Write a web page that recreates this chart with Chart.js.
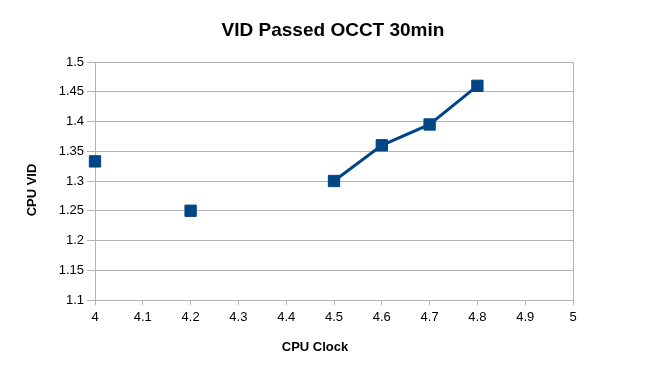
<!DOCTYPE html>
<html>
<head>
<meta charset="utf-8">
<script src="https://cdn.jsdelivr.net/npm/chart.js@4/dist/chart.umd.min.js"></script>
<style>
  html, body { margin: 0; padding: 0; background: #ffffff; }
  #wrap { width: 666px; height: 376px; }
</style>
</head>
<body>
<div id="wrap"><canvas id="c" width="666" height="376"></canvas></div>
<script>
const chartTitle = 'VID Passed OCCT 30min';
const xAxisTitle = 'CPU Clock';
const yAxisTitle = 'CPU VID';
const clocks = [4.0, 4.1, 4.2, 4.3, 4.4, 4.5, 4.6, 4.7, 4.8];
const vids   = [1.333, null, 1.25, null, null, 1.30, 1.36, 1.395, 1.46];
const xTicks = [4, 4.1, 4.2, 4.3, 4.4, 4.5, 4.6, 4.7, 4.8, 4.9, 5];
const yTicks = [1.1, 1.15, 1.2, 1.25, 1.3, 1.35, 1.4, 1.45, 1.5];

const FONT = "'Liberation Sans', Arial, sans-serif";
const GRID = '#b3b3b3';
const BLUE = '#004586';

const titles = {
  id: 'titles',
  afterDraw(chart) {
    const ctx = chart.ctx;
    ctx.save();
    ctx.fillStyle = '#000';
    ctx.textAlign = 'center';
    ctx.textBaseline = 'middle';
    ctx.font = 'bold 19px ' + FONT;
    ctx.fillText(chartTitle, 333, 30.5);
    ctx.font = 'bold 13px ' + FONT;
    ctx.fillText(xAxisTitle, 315, 347);
    ctx.translate(32, 190);
    ctx.rotate(-Math.PI / 2);
    ctx.fillText(yAxisTitle, 0, 0);
    ctx.restore();
  }
};

const points = clocks.map((x, i) => ({ x: x, y: vids[i] }));

new Chart(document.getElementById('c'), {
  type: 'line',
  data: {
    datasets: [{
      data: points,
      borderColor: BLUE,
      backgroundColor: BLUE,
      borderWidth: 3,
      pointStyle: 'rect',
      pointRadius: 8,
      pointHoverRadius: 8,
      pointBorderWidth: 1,
      pointBorderColor: BLUE,
      pointBackgroundColor: BLUE,
      spanGaps: false,
      tension: 0,
      clip: false
    }]
  },
  options: {
    responsive: false,
    animation: false,
    events: [],
    layout: { padding: { left: 0, right: 93, top: 62, bottom: 0 } },
    plugins: {
      legend: { display: false },
      tooltip: { enabled: false },
      title: { display: false }
    },
    scales: {
      x: {
        type: 'linear',
        min: xTicks[0],
        max: xTicks[xTicks.length - 1],
        afterFit(scale) { scale.height = 76; },
        afterBuildTicks(scale) { scale.ticks = xTicks.map(v => ({ value: v })); },
        ticks: {
          color: '#000',
          font: { family: FONT, size: 13 },
          padding: 5,
          maxRotation: 0,
          autoSkip: false,
          callback: v => String(parseFloat(Number(v).toFixed(2)))
        },
        grid: {
          color: ctx => (ctx.index === 0 || ctx.index === xTicks.length - 1) ? GRID : 'rgba(0,0,0,0)',
          tickColor: GRID,
          tickLength: 5,
          lineWidth: 1
        },
        border: { display: true, color: GRID, width: 1 }
      },
      y: {
        type: 'linear',
        min: yTicks[0],
        max: yTicks[yTicks.length - 1],
        afterFit(scale) { scale.width = 95; },
        afterBuildTicks(scale) { scale.ticks = yTicks.map(v => ({ value: v })); },
        ticks: {
          color: '#000',
          font: { family: FONT, size: 13 },
          padding: 3,
          autoSkip: false,
          callback: v => String(parseFloat(Number(v).toFixed(2)))
        },
        grid: {
          color: GRID,
          tickColor: GRID,
          tickLength: 8,
          lineWidth: 1
        },
        border: { display: true, color: GRID, width: 1 }
      }
    }
  },
  plugins: [titles]
});
</script>
</body>
</html>
